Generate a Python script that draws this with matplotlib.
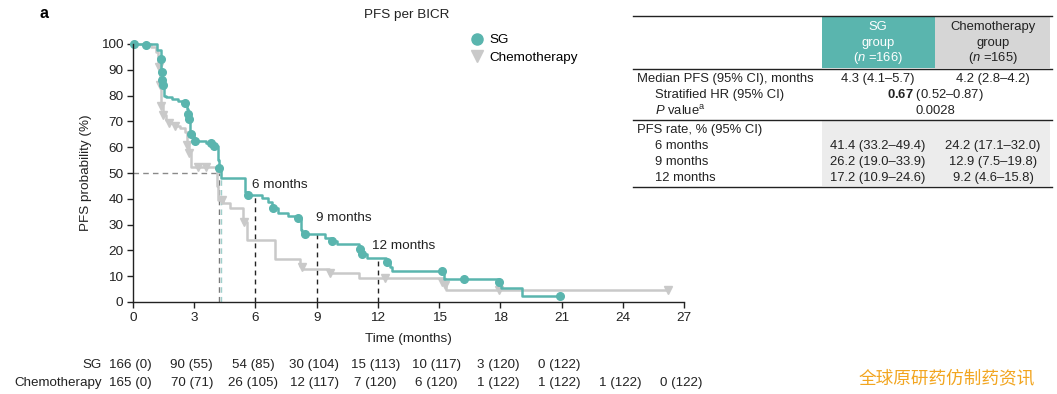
import numpy as np
import matplotlib
matplotlib.use("Agg")
import matplotlib.pyplot as plt
from matplotlib.patches import Rectangle
from matplotlib.lines import Line2D
from matplotlib.transforms import blended_transform_factory

plt.rcParams['font.family'] = ['Liberation Sans', 'DejaVu Sans']
plt.rcParams['mathtext.fontset'] = 'custom'
plt.rcParams['mathtext.rm'] = 'Liberation Sans'
plt.rcParams['mathtext.it'] = 'Liberation Sans:italic'
plt.rcParams['mathtext.bf'] = 'Liberation Sans:bold'

TEAL = '#5ab5ae'
GREY = '#c9c9c9'
INK = '#222222'

# KM step points (time in months, PFS %)
sg_t = [0, 1.2, 1.35, 1.38, 1.42, 1.46, 1.5, 1.6, 1.9, 2.2, 2.5, 2.65, 2.7, 2.75, 2.8,
        3.0, 3.6, 3.9, 4.18, 4.22, 4.3, 5.5, 5.6, 6.3, 6.6, 6.8, 7.1, 7.6, 8.0, 8.25,
        8.3, 9.4, 9.8, 10.0, 11.05, 11.15, 11.45, 12.4, 12.6, 12.7, 15.25, 17.9, 18.05,
        19.05, 20.9]
sg_s = [100, 97.5, 93, 89, 86, 84, 80, 79.3, 78.5, 77.8, 77, 75, 72, 70, 65,
        62.5, 61.5, 60.5, 55, 52, 48, 42.5, 41.4, 40.2, 38.8, 36.5, 34.5, 33.5, 32.5, 28,
        26.2, 25.0, 23.5, 22.5, 20.5, 18.5, 17.2, 15.5, 13.5, 12.1, 8.9, 7.9, 5.3,
        2.5, 2.5]
sg_cens_t = [0.05, 0.62, 1.36, 1.4, 1.43, 1.47, 2.55, 2.68, 2.73, 2.85, 3.05, 3.8, 3.95,
             4.2, 5.65, 6.85, 8.1, 8.45, 9.75, 11.1, 11.2, 12.45, 15.15, 16.2, 17.95, 20.9]
sg_cens_s = [100, 99.6, 94, 89, 86, 84, 77, 73, 71, 65, 62.5, 61.5, 60.5,
             52, 41.4, 36.5, 32.5, 26.2, 23.5, 20.5, 18.5, 15.5, 12.1, 8.9, 7.9, 2.5]

ch_t = [0, 0.9, 1.15, 1.24, 1.32, 1.38, 1.45, 1.6, 1.8, 2.1, 2.3, 2.55, 2.65, 2.75, 2.82,
        4.1, 4.15, 4.4, 4.75, 5.4, 5.6, 6.95, 8.2, 8.35, 9.6, 11.05, 15.2, 15.35, 26.2]
ch_s = [100, 99, 97, 91, 84, 76, 72.5, 70.5, 69.3, 68.3, 67.3, 66, 61, 57.7, 52.5,
        45, 39.5, 38.3, 36.5, 31, 24.2, 16.7, 14, 12.9, 11.4, 9.2, 7.9, 4.8, 4.8]
ch_cens_t = [1.25, 1.33, 1.39, 1.45, 1.75, 2.05, 2.66, 2.76, 3.2, 3.6, 4.35, 5.45,
             8.3, 9.65, 12.35, 15.15, 15.3, 17.95, 26.2]
ch_cens_s = [91, 84, 76, 72.5, 69.3, 68.3, 61, 57.7, 52.5, 52.5, 39.5, 31,
             13.7, 11.4, 9.2, 7.9, 6.5, 4.8, 4.8]

median_sg, median_ch = 4.3, 4.2
landmarks = [6, 9, 12]
landmark_sg = [41.4, 26.2, 17.2]

risk_times = [0, 3, 6, 9, 12, 15, 18, 21, 24, 27]
risk_sg = ['166 (0)', '90 (55)', '54 (85)', '30 (104)', '15 (113)', '10 (117)', '3 (120)', '0 (122)']
risk_ch = ['165 (0)', '70 (71)', '26 (105)', '12 (117)', '7 (120)', '6 (120)', '1 (122)',
           '1 (122)', '1 (122)', '0 (122)']

W, H = 1057, 394
fig = plt.figure(figsize=(W / 100, H / 100), dpi=100)


def fx(x):
    return x / W


def fy(y):
    return 1 - y / H


ax = fig.add_axes([fx(133), fy(302), 551 / W, 258 / H])

# median lines
ax.plot([0, median_sg], [50, 50], ls=(0, (4, 3)), color='#8a8a8a', lw=1)
ax.plot([median_ch, median_ch], [0, 50], ls=(0, (4, 3)), color='#7a7a7a', lw=1)
ax.plot([median_sg, median_sg], [0, 50], ls=(0, (4, 3)), color='#9fcfcb', lw=1)

# landmark lines
for m, s in zip(landmarks, landmark_sg):
    ax.plot([m, m], [0, s], ls=(0, (3.5, 3)), color=INK, lw=1)
ax.text(5.85, 45.5, '6 months', fontsize=9.7, va='center', color=INK)
ax.text(8.95, 32.5, '9 months', fontsize=9.7, va='center', color=INK)
ax.text(11.7, 21.8, '12 months', fontsize=9.7, va='center', color=INK)

ax.step(ch_t, ch_s, where='post', color=GREY, lw=1.8, clip_on=False)
ax.plot(ch_cens_t, ch_cens_s, 'v', color=GREY, ms=6.2, ls='none', clip_on=False)
ax.step(sg_t, sg_s, where='post', color=TEAL, lw=1.8, clip_on=False)
ax.plot(sg_cens_t, sg_cens_s, 'o', color=TEAL, ms=5.5, ls='none', clip_on=False)

ax.set_xlim(0, 27)
ax.set_ylim(0, 100)
ax.set_xticks(np.arange(0, 28, 3))
ax.set_yticks(np.arange(0, 101, 10))
for sp in ['top', 'right']:
    ax.spines[sp].set_visible(False)
for sp in ['left', 'bottom']:
    ax.spines[sp].set_color(INK)
    ax.spines[sp].set_linewidth(1)
ax.tick_params(direction='out', length=4, width=1, color=INK, labelsize=9.7,
               labelcolor=INK, pad=3)
ax.set_xlabel('Time (months)', fontsize=9.7, color=INK, labelpad=7)
ax.set_ylabel('PFS probability (%)', fontsize=9.7, color=INK, labelpad=6)

handles = [Line2D([], [], marker='o', color=TEAL, ls='none', ms=8),
           Line2D([], [], marker='v', color=GREY, ls='none', ms=9)]
ax.legend(handles, ['SG', 'Chemotherapy'], loc='upper left', frameon=False,
          bbox_to_anchor=(fx(472), fy(34)), bbox_transform=fig.transFigure,
          fontsize=9.7, handlelength=0.8, handletextpad=0.5, labelspacing=0.35,
          borderaxespad=0, borderpad=0)

fig.text(fx(407), fy(15), 'PFS per BICR', fontsize=9.7, ha='center', va='center', color=INK)
fig.text(fx(39), fy(13), 'a', fontsize=11.5, fontweight='bold', ha='left', va='center')

# number at risk
rfs = 9.6
bt = blended_transform_factory(ax.transData, fig.transFigure)
fig.text(fx(102), fy(365), 'SG', fontsize=rfs, ha='right', va='center', color=INK)
fig.text(fx(102), fy(383), 'Chemotherapy', fontsize=rfs, ha='right', va='center', color=INK)
for t, lab in zip(risk_times, risk_sg):
    ax.text(t - 0.12, fy(365), lab, transform=bt, fontsize=rfs, ha='center', va='center',
            color=INK, clip_on=False)
for t, lab in zip(risk_times, risk_ch):
    ax.text(t - 0.12, fy(383), lab, transform=bt, fontsize=rfs, ha='center', va='center',
            color=INK, clip_on=False)

# summary table
def rect(x0, y0, x1, y1, c):
    fig.patches.append(Rectangle((fx(x0), fy(y1)), fx(x1) - fx(x0), (y1 - y0) / H,
                                 transform=fig.transFigure, color=c, lw=0, zorder=0))


def hline(y):
    fig.add_artist(Line2D([fx(633), fx(1052)], [fy(y), fy(y)], color=INK, lw=1))


rect(822, 17, 935, 68, TEAL)
rect(935, 17, 1050, 68, '#d6d6d6')
rect(822, 121, 1050, 186, '#ececec')
for y in [16, 69, 120, 187]:
    hline(y)

tfs = 9.4
c1, c2, cm = 878, 993, 935
for y, s in zip([27, 43, 58], ['SG', 'group', '($\\mathit{n}$ =166)']):
    fig.text(fx(c1), fy(y), s, fontsize=tfs, ha='center', va='center', color='white')
for y, s in zip([27, 43, 58], ['Chemotherapy', 'group', '($\\mathit{n}$ =165)']):
    fig.text(fx(c2), fy(y), s, fontsize=tfs, ha='center', va='center', color=INK)

rows_left = [(637, 79, 'Median PFS (95% CI), months'),
             (655, 95, 'Stratified HR (95% CI)'),
             (655, 111, '$\\mathit{P}$ value$^{\\mathrm{a}}$'),
             (637, 130, 'PFS rate, % (95% CI)'),
             (655, 146, '6 months'),
             (655, 162, '9 months'),
             (655, 178, '12 months')]
for x, y, s in rows_left:
    fig.text(fx(x), fy(y), s, fontsize=tfs, ha='left', va='center', color=INK)

sg_vals = ['4.3 (4.1–5.7)', '41.4 (33.2–49.4)', '26.2 (19.0–33.9)', '17.2 (10.9–24.6)']
ch_vals = ['4.2 (2.8–4.2)', '24.2 (17.1–32.0)', '12.9 (7.5–19.8)', '9.2 (4.6–15.8)']
for y, a, b in zip([79, 146, 162, 178], sg_vals, ch_vals):
    fig.text(fx(c1), fy(y), a, fontsize=tfs, ha='center', va='center', color=INK)
    fig.text(fx(c2), fy(y), b, fontsize=tfs, ha='center', va='center', color=INK)
fig.text(fx(cm), fy(95), '$\\mathbf{0.67}$ (0.52–0.87)', fontsize=tfs, ha='center',
         va='center', color=INK)
fig.text(fx(cm), fy(111), '0.0028', fontsize=tfs, ha='center', va='center', color=INK)

fig.text(fx(947), fy(378), '全球原研药仿制药资讯', fontsize=12.7, ha='center', va='center',
         color='#f2a51f', family=['Noto Sans CJK SC', 'DejaVu Sans'])

fig.savefig('out.png', dpi=100)
